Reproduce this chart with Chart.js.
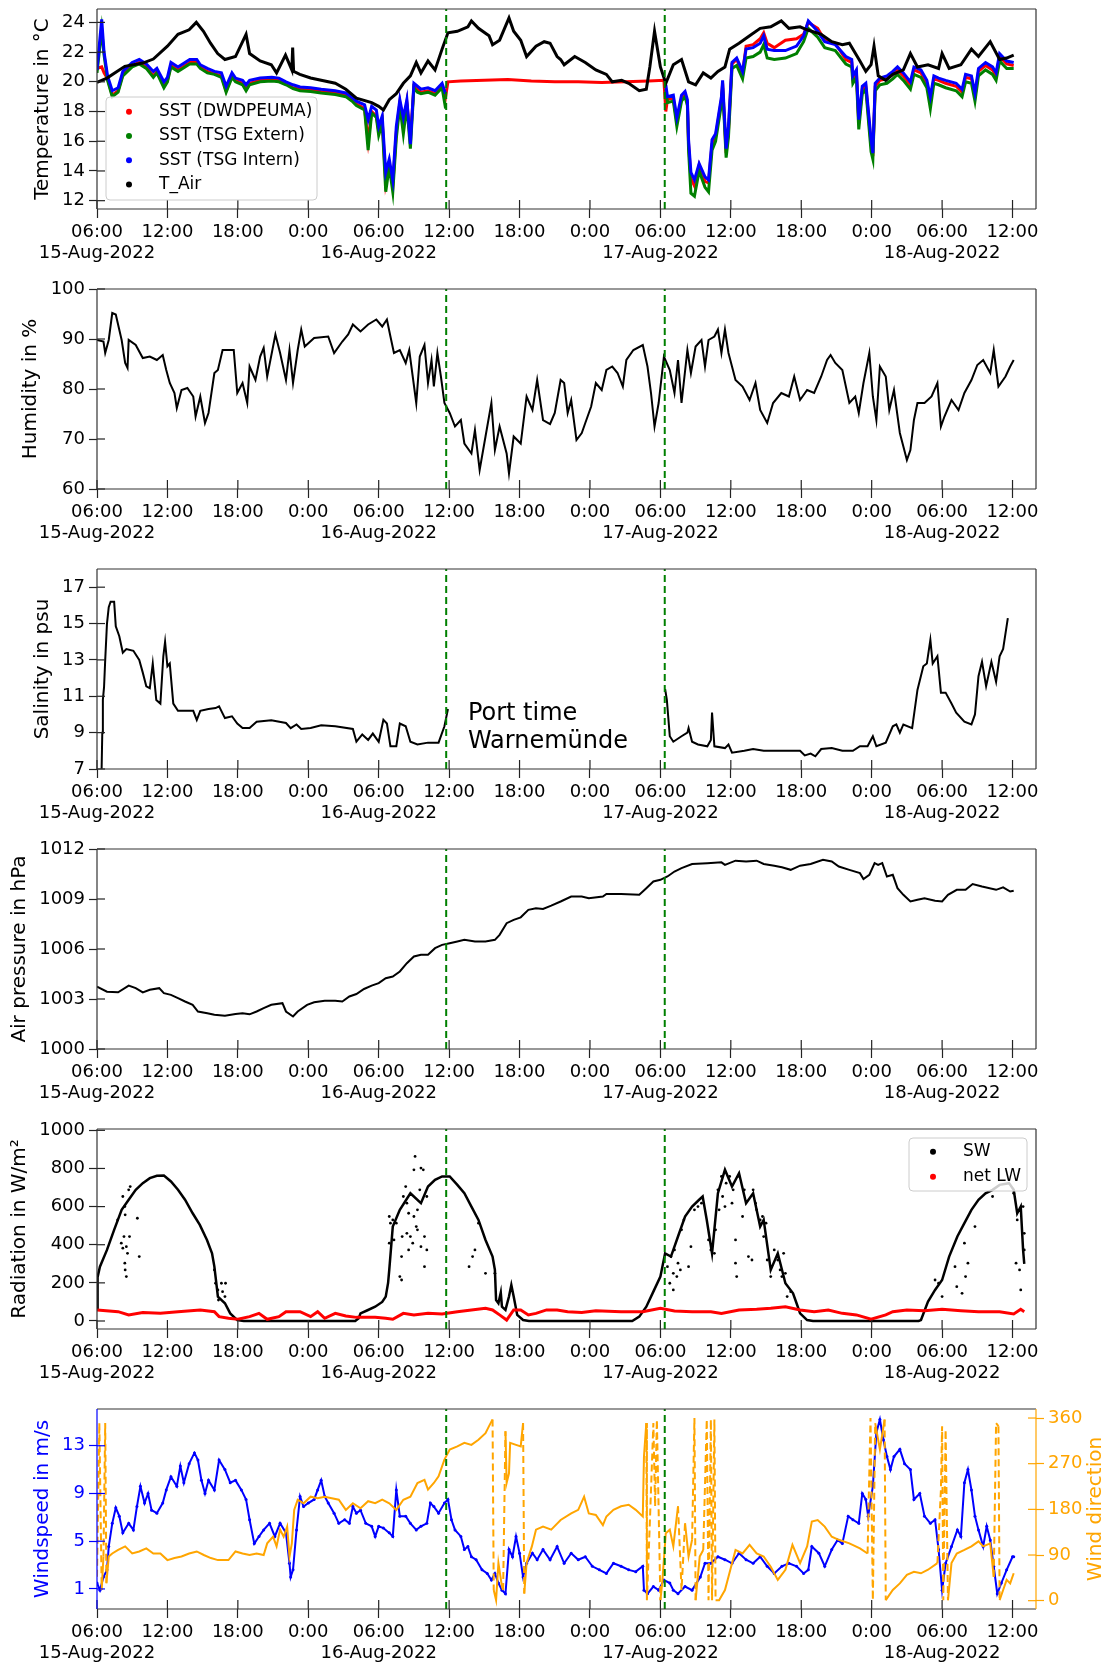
<!DOCTYPE html>
<html>
<head>
<meta charset="utf-8">
<script src="https://cdn.jsdelivr.net/npm/chart.js@4.4.0/dist/chart.umd.min.js"></script>
<style>
  body { margin: 0; background: #fff; }
  #wrap { position: relative; width: 1110px; height: 1663px; }
  canvas { position: absolute; left: 0; }
</style>
</head>
<body>
<div id="wrap">
  <canvas id="c1" width="1110" height="280" style="top:0px"></canvas>
  <canvas id="c2" width="1110" height="280" style="top:280px"></canvas>
  <canvas id="c3" width="1110" height="280" style="top:560px"></canvas>
  <canvas id="c4" width="1110" height="280" style="top:840px"></canvas>
  <canvas id="c5" width="1110" height="280" style="top:1120px"></canvas>
  <canvas id="c6" width="1110" height="263" style="top:1400px"></canvas>
</div>
<script>
// time axis: hours after 15-Aug-2022 06:00
const xRange = [0, 80];
const tickHours = [0, 6, 12, 18, 24, 30, 36, 42, 48, 54, 60, 66, 72, 78];
const tickLabels = [['06:00', '15-Aug-2022'], '12:00', '18:00', '0:00', ['06:00', '16-Aug-2022'], '12:00', '18:00', '0:00',
  ['06:00', '17-Aug-2022'], '12:00', '18:00', '0:00', ['06:00', '18-Aug-2022'], '12:00'];
const portTimes = [29.75, 48.37];

// temperature
const tAir = [[0,19.96],[0.85,20.25],[2.37,21.04],[3.9,21.26],[4.8,21.53],[6.0,22.4],[6.9,23.2],[7.85,23.5],[8.46,24.0],[9.07,23.4],
  [9.67,22.6],[10.28,21.9],[10.9,21.5],[11.8,21.7],[12.7,23.2],[13.0,21.9],[13.9,21.4],[14.85,21.15],[15.3,20.6],[16.06,21.8],
  [16.6,20.8],[16.67,22.3],[16.75,20.7],[17.28,20.5],[18.2,20.26],[19.1,20.1],[20.3,19.9],[21.2,19.5],[22.1,18.9],[23.4,18.6],
  [24.0,18.35],[24.4,18.1],[24.9,18.8],[25.5,19.2],[26.1,19.9],[26.7,20.4],[27.2,21.3],[27.6,20.6],[28.2,21.4],[28.8,20.8],
  [29.4,22.2],[29.9,23.3],[30.7,23.4],[31.6,23.7],[31.9,24.1],[32.5,23.6],[33.4,23.1],[33.7,22.5],[34.3,22.8],[35.1,24.3],
  [35.5,23.4],[36.1,22.8],[36.6,21.7],[37.4,22.4],[38.1,22.7],[38.6,22.6],[39.2,21.7],[39.5,21.5],[39.8,21.15],[40.7,21.7],
  [41.6,21.3],[42.5,20.8],[43.4,20.5],[43.9,20.0],[44.7,20.1],[45.3,19.9],[46.2,19.4],[46.8,19.5],[47.1,21.0],[47.5,23.4],
  [48.0,21.0],[48.46,19.9],[49.1,21.15],[49.8,21.5],[50.4,20.0],[51.0,19.8],[51.65,20.6],[52.3,20.25],[52.9,20.7],[53.5,21.0],
  [53.9,22.2],[54.7,22.6],[55.6,23.1],[56.5,23.6],[57.4,23.7],[58.3,24.1],[58.95,23.6],[59.9,23.7],[60.5,23.5],[61.7,23.2],
  [62.6,22.7],[63.5,22.5],[64.1,22.6],[65.0,21.4],[65.5,20.7],[65.95,21.15],[66.2,22.4],[66.56,20.4],[67.2,20.1],[67.8,20.5],
  [68.7,20.8],[69.3,21.9],[69.9,21.0],[70.8,21.15],[71.7,20.9],[72.0,21.9],[72.6,20.9],[73.6,21.15],[74.5,22.2],[75.1,21.7],
  [76.1,22.7],[76.9,21.5],[77.5,21.6],[78.1,21.8]];

const sstIntern = [[0,20.8],[0.4,24.2],[0.6,22.0],[0.9,20.4],[1.3,19.4],[1.8,19.6],[2.2,20.7],[3.0,21.3],[3.6,21.5],[4.2,21.2],
  [4.8,20.7],[5.1,20.9],[5.7,20.0],[6.0,20.3],[6.3,21.3],[6.9,21.0],[7.9,21.5],[8.5,21.5],[8.8,21.15],[9.4,20.9],
  [10.0,20.7],[10.6,20.6],[11.0,19.7],[11.5,20.6],[11.8,20.25],[12.4,20.1],[12.7,19.8],[13.0,20.1],[13.9,20.25],[14.9,20.3],
  [15.5,20.25],[16.1,20.0],[16.7,19.8],[17.3,19.65],[18.2,19.6],[19.1,19.5],[20.3,19.4],[21.2,19.25],[21.8,18.9],[22.1,18.7],
  [22.8,18.45],[23.1,17.45],[23.4,18.35],[23.8,18.1],[24.0,17.0],[24.3,17.7],[24.6,13.9],[24.9,14.8],[25.2,13.4],[25.5,17.0],
  [25.8,18.8],[26.1,17.6],[26.4,18.8],[26.7,15.8],[27.0,19.9],[27.3,19.7],[27.6,19.5],[28.2,19.6],[28.8,19.4],[29.4,19.9],
  [29.7,19.2],[30,null],
  [48.46,19.8],[48.6,19.0],[49.1,19.1],[49.4,17.6],[49.8,19.1],[50.1,19.35],[50.3,18.8],[50.4,16.1],[50.6,13.9],[50.9,13.4],
  [51.3,14.5],[51.8,13.6],[52.1,13.4],[52.4,16.1],[52.7,16.5],[53.2,19.0],[53.3,20.1],[53.6,15.5],[53.8,17.0],[54.1,21.3],
  [54.5,21.6],[55.0,20.7],[55.3,22.2],[55.9,22.3],[56.5,22.6],[56.8,23.1],[57.1,22.2],[57.7,22.1],[58.65,22.1],[59.6,22.4],
  [60.2,23.1],[60.6,24.1],[61.4,23.4],[62.0,22.7],[62.9,22.5],[63.8,21.7],[64.3,21.5],[64.4,20.4],[64.7,20.8],[64.9,17.45],
  [65.2,19.7],[65.5,19.9],[65.95,16.1],[66.1,15.2],[66.3,19.9],[66.7,20.25],[67.3,20.4],[67.8,20.7],[68.2,21.0],[68.7,20.6],
  [69.3,20.0],[69.6,21.0],[70.2,20.8],[70.7,20.1],[71.0,19.0],[71.3,20.4],[71.7,20.25],[72.3,20.1],[73.2,19.9],[73.7,19.5],
  [74.0,20.5],[74.5,20.4],[74.8,19.25],[75.1,20.9],[75.7,21.3],[76.3,21.0],[76.6,20.6],[76.9,21.9],[77.5,21.4],[78.1,21.3]];

const sstExtern = [[0,20.6],[0.4,23.5],[0.6,21.8],[0.9,20.1],[1.3,19.0],[1.8,19.3],[2.2,20.4],[3.0,21.0],[3.6,21.2],[4.2,20.9],
  [4.8,20.3],[5.1,20.6],[5.7,19.6],[6.0,20.0],[6.3,21.0],[6.9,20.7],[7.9,21.2],[8.5,21.2],[8.8,20.9],[9.4,20.6],
  [10.0,20.5],[10.6,20.3],[11.0,19.3],[11.5,20.3],[11.8,20.0],[12.4,19.8],[12.7,19.4],[13.0,19.8],[13.9,20.0],[14.9,20.05],
  [15.5,20.0],[16.1,19.8],[16.7,19.55],[17.3,19.4],[18.2,19.35],[19.1,19.25],[20.3,19.15],[21.2,19.0],[21.8,18.65],[22.1,18.4],
  [22.8,18.1],[23.1,15.4],[23.4,17.9],[23.8,17.6],[24.0,16.4],[24.3,17.2],[24.6,12.6],[24.9,14.3],[25.2,12.6],[25.5,16.2],
  [25.8,18.4],[26.1,16.5],[26.4,18.4],[26.7,15.5],[27.0,19.6],[27.3,19.3],[27.6,19.2],[28.2,19.3],[28.8,19.1],[29.4,19.6],
  [29.7,18.2],[30,null],
  [48.46,19.5],[48.6,18.6],[49.1,18.7],[49.4,17.0],[49.8,18.7],[50.1,19.0],[50.3,18.4],[50.4,15.4],[50.6,12.5],[50.9,12.3],
  [51.3,14.0],[51.8,12.9],[52.1,12.6],[52.4,15.4],[52.7,16.0],[53.2,18.5],[53.3,19.6],[53.6,14.9],[53.8,16.3],[54.1,20.9],
  [54.5,21.1],[55.0,20.2],[55.3,21.6],[55.9,21.7],[56.5,22.0],[56.8,22.5],[57.1,21.6],[57.7,21.5],[58.65,21.6],[59.6,21.9],
  [60.2,22.7],[60.6,23.6],[61.4,23.0],[62.0,22.3],[62.9,22.1],[63.8,21.2],[64.3,21.0],[64.4,19.9],[64.7,20.3],[64.9,16.8],
  [65.2,19.2],[65.5,19.5],[65.95,15.3],[66.1,14.8],[66.3,19.4],[66.7,19.8],[67.3,19.9],[67.8,20.2],[68.2,20.5],[68.7,20.1],
  [69.3,19.5],[69.6,20.5],[70.2,20.3],[70.7,19.6],[71.0,18.2],[71.3,19.9],[71.7,19.8],[72.3,19.6],[73.2,19.4],[73.7,19.0],
  [74.0,20.0],[74.5,19.9],[74.8,18.7],[75.1,20.4],[75.7,20.8],[76.3,20.5],[76.6,20.1],[76.9,21.4],[77.5,20.9],[78.1,20.9]];

const sstDwd = [[0,20.9],[0.4,21.0],[0.6,20.6],[0.9,20.2],[1.3,19.1],[1.8,19.4],[2.2,20.5],[3.0,21.1],[3.6,21.3],[4.2,21.0],
  [4.8,20.4],[5.1,20.7],[5.7,19.7],[6.0,20.1],[6.3,21.1],[6.9,20.8],[7.9,21.3],[8.5,21.3],[8.8,21.0],[9.4,20.7],
  [10.0,20.55],[10.6,20.4],[11.0,19.4],[11.5,20.4],[11.8,20.1],[12.4,19.9],[12.7,19.5],[13.0,19.9],[13.9,20.1],[14.9,20.15],
  [15.5,20.1],[16.1,19.9],[16.7,19.6],[17.3,19.5],[18.2,19.45],[19.1,19.35],[20.3,19.25],[21.2,19.1],[21.8,18.75],[22.1,18.5],
  [22.8,18.2],[23.1,16.0],[23.4,18.0],[23.8,17.7],[24.0,16.7],[24.3,17.4],[24.6,13.2],[24.9,14.5],[25.2,13.0],[25.5,16.6],
  [25.8,18.6],[26.1,17.0],[26.4,18.6],[26.7,16.2],[27.0,19.7],[27.3,19.5],[27.6,19.3],[28.2,19.4],[28.8,19.2],[29.4,19.7],
  [29.7,19.0],[29.9,20.0],[31,20.05],[33,20.1],[35,20.15],[37,20.05],[39,20.0],[41,20.0],[43,19.95],[45,20.0],[47,20.05],[48.3,20.1],
  [48.46,18.0],[48.6,18.8],[49.1,18.9],[49.4,17.3],[49.8,18.9],[50.1,19.2],[50.3,18.6],[50.4,15.8],[50.6,13.5],[50.9,13.0],
  [51.3,14.4],[51.8,13.3],[52.1,13.2],[52.4,15.8],[52.7,16.3],[53.2,18.8],[53.3,19.9],[53.6,15.2],[53.8,16.7],[54.1,21.2],
  [54.5,21.5],[55.0,20.6],[55.3,22.4],[55.9,22.5],[56.5,22.9],[56.8,23.3],[57.1,22.6],[57.7,22.3],[58.65,22.8],[59.6,22.9],
  [60.2,23.2],[60.6,24.0],[61.4,23.6],[62.0,22.8],[62.9,22.6],[63.8,21.5],[64.3,21.3],[64.4,20.2],[64.7,20.6],[64.9,17.2],
  [65.2,19.5],[65.5,19.7],[65.95,15.8],[66.1,15.0],[66.3,19.7],[66.7,20.1],[67.3,20.2],[67.8,20.5],[68.2,20.8],[68.7,20.4],
  [69.3,19.8],[69.6,20.8],[70.2,20.6],[70.7,19.9],[71.0,18.7],[71.3,20.2],[71.7,20.1],[72.3,19.9],[73.2,19.7],[73.7,19.3],
  [74.0,20.3],[74.5,20.2],[74.8,19.0],[75.1,20.7],[75.7,21.1],[76.3,20.8],[76.6,20.4],[76.9,21.7],[77.5,21.2],[78.1,21.1]];

// humidity
const humidity = [[0,89.8],[0.55,89.5],[0.7,87.2],[1.0,89.8],[1.3,95.2],[1.6,94.9],[2.1,89.8],[2.4,85.2],[2.6,84.2],[2.7,89.8],
  [3.3,88.8],[3.9,86.2],[4.5,86.5],[5.1,85.8],[5.6,86.8],[5.9,83.8],[6.2,81.2],[6.6,79.2],[6.8,76.2],[7.2,79.8],
  [7.7,80.2],[8.2,78.5],[8.4,74.5],[8.8,78.5],[9.2,73.2],[9.5,75.2],[10.0,83.2],[10.3,83.8],[10.7,87.8],[11.65,87.8],
  [11.95,79.2],[12.4,81.2],[12.8,77.2],[13.0,84.5],[13.5,81.8],[13.9,86.5],[14.2,88.2],[14.5,82.5],[15.2,90.9],[15.6,87.2],
  [16.1,81.8],[16.4,87.8],[16.7,81.2],[17.1,87.8],[17.4,91.9],[17.7,88.5],[18.5,90.2],[19.7,90.5],[20.2,87.2],[20.9,89.5],
  [21.4,90.9],[21.8,92.9],[22.45,91.5],[23.1,92.9],[23.8,93.9],[24.3,92.5],[24.7,93.9],[25.0,90.5],[25.3,87.2],[25.8,87.8],
  [26.3,85.2],[26.6,87.8],[27.2,77.2],[27.5,86.5],[27.9,88.8],[28.2,81.2],[28.5,85.8],[28.7,80.5],[29.0,87.2],[29.3,82.5],
  [29.6,77.2],[30.05,75.2],[30.5,72.5],[31.0,73.8],[31.3,69.1],[31.9,67.1],[32.2,71.8],[32.6,63.8],[33.1,70.5],[33.6,77.2],
  [33.9,67.8],[34.3,72.5],[34.9,67.1],[35.1,63.1],[35.5,70.5],[36.1,69.1],[36.6,78.5],[37.1,75.8],[37.5,81.8],[38.0,73.8],
  [38.6,73.0],[39.0,75.2],[39.5,81.8],[39.8,81.2],[40.1,75.2],[40.4,77.8],[40.85,69.8],[41.3,71.2],[41.6,73.2],[42.1,76.5],
  [42.5,81.2],[43.0,79.8],[43.4,83.8],[43.9,84.5],[44.35,83.2],[44.8,80.5],[45.1,85.8],[45.7,87.8],[46.5,88.8],[46.9,84.5],
  [47.2,79.2],[47.5,72.5],[47.85,77.2],[48.3,86.5],[48.8,83.8],[49.2,79.2],[49.5,85.8],[49.8,77.2],[50.3,87.8],[50.6,83.2],
  [51.0,88.5],[51.5,89.8],[51.8,84.5],[52.1,89.8],[52.6,90.5],[52.9,91.9],[53.2,87.2],[53.5,91.9],[53.8,87.2],[54.1,84.5],
  [54.4,81.8],[55.0,80.5],[55.6,77.8],[56.1,81.2],[56.5,75.8],[57.1,73.2],[57.6,77.2],[58.3,79.2],[58.95,78.5],[59.4,82.5],
  [59.9,77.8],[60.5,79.8],[61.1,79.2],[61.7,82.5],[62.2,85.8],[62.5,86.8],[62.9,85.2],[63.5,83.8],[64.1,77.2],[64.6,78.5],
  [64.9,75.2],[65.3,81.2],[65.8,87.2],[66.1,78.5],[66.4,73.8],[66.7,84.5],[67.2,82.5],[67.5,75.8],[67.9,79.8],[68.4,71.2],
  [68.7,68.5],[69.0,65.8],[69.3,67.8],[69.6,73.8],[69.9,77.2],[70.5,77.2],[71.1,78.5],[71.6,81.2],[71.9,72.5],[72.2,74.5],
  [72.8,77.8],[73.4,75.8],[73.9,79.2],[74.5,81.8],[75.0,84.8],[75.5,85.8],[76.1,83.2],[76.4,87.8],[76.8,80.5],[77.4,82.5],
  [77.8,84.5],[78.1,85.8]];

// salinity
const salinity = [[0.38,6.5],[0.45,9.0],[0.5,10.8],[0.6,11.5],[0.7,13.0],[0.85,15.0],[1.0,15.9],[1.16,16.2],[1.46,16.2],[1.6,14.85],
  [1.9,14.3],[2.2,13.4],[2.5,13.6],[3.1,13.5],[3.6,13.0],[3.9,12.3],[4.2,11.55],[4.5,11.45],[4.75,12.8],[5.05,10.8],
  [5.4,10.6],[5.65,13.2],[5.8,14.0],[6.0,12.65],[6.2,12.8],[6.5,10.6],[6.9,10.2],[8.2,10.2],[8.5,9.7],[8.8,10.2],
  [9.5,10.3],[10.1,10.35],[10.4,10.45],[10.9,9.8],[11.5,9.9],[11.95,9.5],[12.4,9.25],[13.0,9.25],[13.6,9.6],[14.85,9.68],
  [16.1,9.53],[16.5,9.25],[17.0,9.45],[17.4,9.2],[18.2,9.25],[19.1,9.4],[20.3,9.35],[21.8,9.2],[22.1,8.5],[22.6,8.9],
  [23.1,8.6],[23.5,8.95],[24.0,8.5],[24.4,9.7],[24.7,9.5],[25.0,8.25],[25.5,8.25],[25.8,9.5],[26.3,9.35],[26.7,8.5],
  [27.3,8.35],[28.2,8.45],[29.1,8.45],[29.6,9.35],[29.9,10.3],[30,null],
  [48.4,11.4],[48.55,10.8],[48.8,8.8],[49.1,8.5],[49.8,8.8],[50.3,9.0],[50.4,9.25],[50.7,8.5],[51.2,8.35],[52.0,8.25],
  [52.3,8.6],[52.4,10.1],[52.6,8.25],[53.5,8.15],[53.8,8.35],[54.1,7.9],[55.15,8.0],[55.9,8.1],[56.8,8.0],[58.35,8.0],
  [59.9,8.0],[60.3,7.75],[60.8,7.85],[61.2,7.7],[61.7,8.1],[62.6,8.15],[63.5,8.0],[64.4,8.0],[65.0,8.25],[65.65,8.25],
  [66.1,8.8],[66.4,8.25],[67.2,8.45],[67.8,9.35],[68.1,9.45],[68.4,9.0],[68.7,9.45],[69.45,9.25],[69.9,11.35],[70.4,12.65],
  [70.7,12.8],[71.0,14.1],[71.2,12.8],[71.6,13.2],[71.9,11.2],[72.3,11.2],[72.8,10.6],[73.2,10.1],[73.9,9.6],[74.5,9.45],
  [74.8,10.0],[75.1,12.1],[75.4,12.9],[75.75,11.55],[76.2,12.9],[76.6,11.8],[76.9,13.2],[77.2,13.6],[77.6,15.3]];

// air pressure
const pressure = [[0,1003.74],[0.85,1003.44],[1.8,1003.4],[2.7,1003.8],[3.3,1003.65],[3.9,1003.4],[4.5,1003.55],[5.3,1003.65],[5.7,1003.35],[6.3,1003.25],
  [6.9,1003.05],[7.5,1002.85],[8.15,1002.65],[8.6,1002.25],[9.4,1002.15],[10.0,1002.05],[10.9,1002.0],[11.8,1002.1],[12.4,1002.15],[13.0,1002.08],
  [13.6,1002.25],[14.2,1002.45],[14.85,1002.65],[15.8,1002.75],[16.1,1002.25],[16.7,1001.95],[17.1,1002.25],[17.9,1002.65],[18.5,1002.8],[19.4,1002.9],
  [20.3,1002.9],[20.9,1002.85],[21.5,1003.15],[22.1,1003.3],[22.75,1003.6],[23.4,1003.8],[24.0,1003.95],[24.6,1004.25],[25.2,1004.35],[25.8,1004.65],
  [26.4,1005.15],[27.0,1005.55],[27.6,1005.65],[28.2,1005.65],[28.8,1006.05],[29.4,1006.25],[30.05,1006.35],[30.7,1006.45],[31.3,1006.55],[32.2,1006.45],
  [33.1,1006.45],[33.9,1006.55],[34.3,1006.85],[34.9,1007.55],[35.5,1007.75],[36.1,1007.9],[36.75,1008.35],[37.4,1008.45],[38.0,1008.4],[38.7,1008.6],
  [39.5,1008.85],[40.4,1009.15],[41.3,1009.15],[41.9,1009.05],[43.1,1009.15],[43.4,1009.3],[44.65,1009.3],[46.2,1009.25],[46.8,1009.65],[47.4,1010.05],
  [48.0,1010.15],[48.6,1010.35],[49.2,1010.65],[49.8,1010.85],[50.7,1011.1],[52.0,1011.15],[53.2,1011.2],[53.5,1011.05],[54.4,1011.3],[55.3,1011.25],
  [56.2,1011.3],[56.8,1011.1],[57.7,1011.0],[58.35,1010.9],[59.1,1010.75],[59.9,1011.0],[60.8,1011.1],[61.85,1011.35],[62.6,1011.25],[63.2,1010.95],
  [64.1,1010.75],[65.0,1010.55],[65.3,1010.2],[65.8,1010.45],[66.25,1011.15],[66.55,1011.05],[66.9,1011.15],[67.3,1010.35],[67.8,1010.45],[68.2,1009.65],
  [68.7,1009.25],[69.3,1008.85],[69.9,1008.95],[70.5,1009.05],[71.4,1008.9],[72.0,1008.85],[72.5,1009.25],[73.25,1009.55],[74.0,1009.55],[74.6,1009.9],
  [75.4,1009.75],[76.6,1009.55],[77.2,1009.7],[77.8,1009.45],[78.1,1009.5]];

// radiation
const swMain = [[0,60],[0.05,230],[0.25,285],[0.85,373],[1.46,478],[2.1,583],[2.7,636],[3.3,688],[3.9,723],[4.5,749],
  [5.1,762],[5.7,763],[6.3,732],[6.9,688],[7.5,636],[8.15,565],[8.76,504],[9.37,425],[9.8,355],[10.0,285],
  [10.1,233],[10.3,128],[10.9,93],[11.35,40],[11.95,5],[12.5,0],[22.0,0],[22.3,15],[22.45,40],[23.0,55],
  [23.7,75],[24.3,100],[24.6,128],[24.8,200],[24.9,268],[25.2,495],[25.8,583],[26.7,670],[27.6,618],[28.2,705],
  [28.8,740],[29.4,758],[30.05,758],[30.7,714],[31.3,670],[31.9,600],[32.5,530],[33.1,425],[33.7,338],[33.9,268],
  [34.0,110],[34.2,93],[34.4,149],[34.5,75],[34.8,58],[35.1,128],[35.3,189],[35.5,128],[35.8,32],[36.3,5],
  [36.8,0],[45.6,0],[46.2,23],[46.8,75],[47.4,154],[48.0,233],[48.4,355],[48.9,338],[49.5,443],[50.1,548],
  [50.7,600],[51.3,636],[51.6,653],[51.95,530],[52.4,355],[52.9,670],[53.5,793],[54.1,705],[54.7,775],[55.3,618],
  [55.9,670],[56.5,495],[56.8,530],[57.4,268],[58.0,355],[58.65,198],[59.3,145],[59.6,93],[59.9,40],[60.5,5],
  [61.0,0],[70.0,0],[70.2,5],[70.8,102],[71.4,163],[72.0,215],[72.6,338],[73.3,443],[73.9,513],[74.5,583],
  [75.1,636],[75.7,670],[76.3,688],[76.9,714],[77.7,723],[78.1,688],[78.4,565],[78.7,600],[78.9,373],[79.0,300]];
const swCloud = [[1.76,530],[2.07,408],[2.2,653],[2.37,600],[2.37,303],[2.4,268],[2.5,233],[2.6,355],[2.7,688],[2.77,443],
  [2.83,705],[3.44,539],[3.6,338],[2.2,382],[2.5,390],[2.3,443],[2.4,557],
  [10.0,268],[10.1,198],[10.3,163],[10.35,110],[10.6,198],[10.7,154],[10.9,128],[10.95,198],
  [24.9,548],[24.9,408],[25.0,513],[25.2,530],[25.5,513],[25.8,233],[25.95,338],[26.1,653],[26.3,705],[26.4,618],
  [26.55,565],[26.7,443],[26.9,408],[27.0,793],[27.1,863],[27.2,495],[27.3,478],[27.5,688],[27.6,390],[27.6,802],
  [27.8,793],[27.9,443],[28.1,373],[27.9,285],[26.4,460],[27.0,548],[25.3,425],[25.95,215],[26.0,443],[26.55,373],
  [27.3,583],[28.1,653],[32.2,373],[32.0,338],[31.7,285],[33.1,250],[33.9,250],[32.5,513],
  [48.6,285],[48.8,198],[48.9,338],[49.1,250],[49.2,373],[49.4,233],[49.5,303],[49.7,268],[49.1,163],[49.8,478],
  [50.0,530],[50.4,285],[50.6,390],[50.9,583],[51.2,600],[51.5,618],[52.1,425],[52.3,373],[52.6,355],[52.7,478],
  [52.9,688],[53.0,583],[53.2,758],[53.3,653],[53.5,600],[53.6,723],[53.9,758],[54.1,618],[54.2,688],[54.4,303],
  [54.4,425],[54.5,233],[54.7,758],[55.0,548],[55.15,688],[55.5,338],[55.8,320],[55.9,688],[56.1,618],[56.2,583],
  [56.5,530],[56.7,548],[56.8,443],[57.0,513],[57.1,320],[57.4,233],[57.7,373],[58.0,320],[58.2,268],[58.35,233],
  [58.5,355],[58.65,250],[58.8,128],[59.1,154],
  [71.4,215],[71.7,198],[72.0,128],[73.1,285],[73.25,180],[73.7,145],[73.9,408],[74.2,303],[74.0,233],[74.8,495],
  [76.3,653],[78.4,530],[78.3,303],[78.6,268],[78.7,163],[78.9,600],[79.0,460],[78.1,670],[79.0,373]];
const netLw = [[0,58],[1.8,49],[2.7,32],[3.9,44],[5.4,40],[6.9,49],[8.8,58],[10.0,49],[10.4,23],[11.2,14],
  [12.0,9],[13.0,23],[13.8,40],[14.5,9],[15.5,23],[16.1,49],[17.3,49],[18.2,23],[18.8,49],[19.4,14],
  [20.3,40],[21.2,26],[22.1,19],[23.7,19],[24.6,14],[25.2,9],[26.1,40],[27.0,32],[28.2,40],[29.4,37],
  [30.7,49],[31.9,58],[33.1,67],[33.7,58],[34.3,32],[34.9,5],[35.5,58],[36.1,58],[36.75,32],[37.4,40],
  [38.3,58],[39.2,58],[40.1,49],[41.3,44],[42.5,54],[44.65,49],[46.5,49],[48.0,67],[49.2,53],[50.7,49],
  [52.3,49],[53.2,40],[54.7,58],[56.2,61],[57.4,67],[58.65,75],[59.9,58],[61.1,49],[62.3,58],[63.5,40],
  [64.7,32],[65.95,9],[67.2,32],[67.8,49],[69.0,58],[70.5,54],[72.0,61],[73.6,54],[75.1,49],[76.9,49],
  [78.1,37],[78.7,61],[79.0,49]];

// wind
const windSpeed = [[0,1.5],[0.25,0.9],[0.55,2.0],[0.85,2.6],[1.0,4.55],[1.3,6.5],[1.6,7.8],[1.9,7.1],[2.2,5.7],[2.7,6.5],
  [3.1,5.95],[3.4,7.9],[3.7,9.6],[4.05,8.2],[4.35,9.0],[4.65,7.6],[5.1,7.35],[5.6,8.2],[5.9,9.3],[6.3,10.4],
  [6.8,9.6],[7.1,11.3],[7.4,9.9],[7.85,11.5],[8.3,12.4],[8.6,11.8],[8.9,10.1],[9.2,9.0],[9.5,10.1],[10.0,9.3],
  [10.4,11.8],[10.9,11.0],[11.35,9.9],[11.8,10.1],[12.3,9.3],[12.7,8.5],[13.0,6.8],[13.4,4.8],[13.8,5.4],[14.2,5.95],
  [14.7,6.5],[15.15,5.4],[15.6,6.5],[16.1,5.7],[16.4,3.15],[16.5,2.0],[16.7,2.6],[17.0,5.95],[17.3,8.75],[17.6,7.9],
  [18.0,8.2],[18.5,8.5],[18.8,9.3],[19.1,10.1],[19.4,8.75],[19.7,8.2],[20.2,7.35],[20.6,6.5],[21.1,6.8],[21.5,6.5],
  [21.8,7.9],[22.1,7.35],[22.45,7.6],[22.9,6.5],[23.4,6.25],[23.7,5.4],[24.0,6.25],[24.4,6.1],[24.9,5.7],[25.2,5.4],
  [25.5,9.3],[25.8,7.1],[26.3,7.1],[26.7,6.5],[27.2,5.95],[27.6,6.25],[28.1,6.5],[28.4,8.2],[28.7,7.9],[29.1,7.35],
  [29.6,8.2],[29.9,8.5],[30.2,6.8],[30.5,5.95],[31.0,5.4],[31.3,4.3],[31.6,4.55],[31.9,3.7],[32.3,3.45],[32.8,2.6],
  [33.25,2.3],[33.6,1.75],[33.9,2.3],[34.2,1.5],[34.5,0.9],[34.8,0.6],[35.1,4.3],[35.4,3.7],[35.7,5.4],[36.0,4.0],
  [36.3,2.0],[36.6,3.15],[37.1,4.0],[37.5,3.45],[38.0,4.3],[38.6,3.45],[39.2,4.55],[39.8,3.15],[40.4,4.0],[41.0,3.45],
  [41.6,3.7],[42.2,2.9],[42.8,2.6],[43.4,2.3],[44.0,3.15],[44.65,2.9],[45.3,2.6],[45.9,2.45],[46.5,2.9],[46.6,0.9],
  [46.9,0.6],[47.4,1.2],[47.85,0.9],[48.3,1.75],[48.8,1.5],[49.1,0.9],[49.5,0.6],[50.1,1.2],[50.7,0.9],[51.4,2.0],
  [51.8,3.15],[52.3,3.15],[52.9,3.7],[53.5,3.45],[54.1,3.15],[54.7,4.0],[55.3,3.45],[55.9,3.15],[56.5,3.7],[57.1,2.9],
  [57.7,2.3],[58.35,2.9],[58.95,3.15],[59.6,2.9],[60.2,2.3],[60.6,2.6],[60.9,4.55],[61.5,4.0],[62.0,2.9],[62.6,4.3],
  [63.1,5.1],[63.5,4.8],[64.0,7.1],[64.4,6.8],[64.9,6.5],[65.2,9.0],[65.5,8.5],[65.7,7.1],[66.1,9.6],[66.4,14.1],
  [66.7,15.2],[67.0,13.5],[67.3,12.1],[67.6,11.0],[67.9,12.1],[68.4,12.7],[68.8,11.5],[69.3,11.0],[69.6,8.5],[70.1,9.0],
  [70.5,7.1],[71.0,6.5],[71.4,6.8],[71.7,4.3],[72.0,0.9],[72.3,3.15],[72.8,4.55],[73.3,5.95],[73.6,5.4],[73.9,9.9],
  [74.2,11.0],[74.5,9.3],[74.8,7.1],[75.1,5.95],[75.5,4.55],[75.8,6.25],[76.1,5.1],[76.4,2.9],[76.7,0.6],[77.05,1.5],
  [77.5,2.6],[78.0,3.7],[78.1,3.7]];
const windDir = [[0,47],[0.2,350],[0.4,21],[0.55,87],[0.7,350],[0.8,34],[1.0,87],[1.3,93],[1.8,100],[2.4,107],
  [3.0,93],[3.6,97],[4.2,103],[4.8,93],[5.4,93],[6.0,80],[6.6,84],[7.2,87],[7.85,93],[8.5,97],
  [9.1,90],[9.7,84],[10.3,80],[11.2,80],[11.8,97],[12.4,93],[13.0,90],[13.6,93],[14.2,90],[14.5,113],
  [15.0,126],[15.3,107],[15.6,140],[15.9,126],[16.2,146],[16.4,87],[16.6,113],[16.8,179],[17.1,199],[17.6,192],
  [18.2,205],[18.8,202],[19.4,205],[20.0,202],[20.6,199],[21.2,179],[21.8,192],[22.45,182],[23.1,196],[23.7,192],
  [24.3,199],[24.9,192],[25.5,179],[26.1,199],[26.7,205],[27.3,232],[27.9,238],[28.2,219],[28.7,232],[29.1,245],
  [29.6,278],[30.05,298],[30.7,304],[31.3,311],[31.9,307],[32.5,317],[33.1,330],[33.4,344],[33.7,357],[33.8,21],
  [34.0,1],[34.2,74],[34.5,28],[34.6,21],[34.8,334],[34.9,232],[35.1,251],[35.2,311],[35.7,307],[36.1,304],
  [36.3,350],[36.4,14],[36.6,74],[37.05,107],[37.4,140],[38.0,146],[38.7,140],[39.5,159],[40.4,172],[41.0,179],
  [41.5,205],[41.9,172],[42.5,169],[43.1,149],[43.4,166],[44.0,179],[44.65,186],[45.3,189],[45.9,179],[46.5,166],
  [46.6,284],[46.8,350],[46.85,1],[47.1,153],[47.4,350],[47.55,186],[47.7,357],[48.0,1],[48.15,34],[48.46,133],
  [48.8,140],[49.1,107],[49.5,186],[49.8,21],[50.1,153],[50.4,87],[50.7,120],[50.9,360],[51.0,1],[51.35,87],
  [51.65,100],[51.95,357],[52.1,1],[52.3,357],[52.4,1],[52.6,357],[52.7,1],[53.0,1],[53.5,21],[53.8,47],
  [54.4,100],[55.0,93],[55.6,110],[56.2,93],[56.8,87],[57.4,67],[58.0,41],[58.65,61],[59.25,110],[59.9,74],
  [60.5,107],[60.9,156],[61.4,159],[62.0,146],[62.6,126],[63.2,120],[64.1,113],[65.0,103],[65.65,93],[65.9,360],
  [66.1,1],[66.3,350],[66.7,298],[67.1,357],[67.2,1],[67.8,21],[68.4,34],[69.0,51],[69.6,57],[70.2,54],
  [70.8,61],[71.6,74],[71.9,219],[72.0,344],[72.1,1],[72.3,337],[72.5,1],[72.8,74],[73.25,93],[73.9,100],
  [74.5,107],[75.1,117],[75.5,107],[76.1,113],[76.4,47],[76.6,350],[76.8,344],[76.9,1],[77.2,21],[77.5,41],
  [77.8,34],[78.1,54]];

const tempTicks = [12, 14, 16, 18, 20, 22, 24];
const humTicks = [60, 70, 80, 90, 100];
const salTicks = [7, 9, 11, 13, 15, 17];
const presTicks = [1000, 1003, 1006, 1009, 1012];
const radTicks = [0, 200, 400, 600, 800, 1000];
const speedTicks = [1, 5, 9, 13];
const dirTicks = [0, 90, 180, 270, 360];

const BLUE = '#0000ff', ORANGE = '#ffa500', GREEN = '#008000', RED = '#ff0000';

Chart.defaults.font.family = "'DejaVu Sans', sans-serif";
Chart.defaults.font.size = 18;
Chart.defaults.color = '#000';
Chart.defaults.animation = false;

const xy = arr => arr.map(p => ({x: p[0], y: p[1]}));

function fixedTicks(list) {
  return s => { s.ticks = list.map(v => ({value: v})); };
}

function xAxis(height) {
  return {
    type: 'linear', min: xRange[0], max: xRange[1],
    afterBuildTicks: fixedTicks(tickHours),
    afterFit: s => { s.height = height; s.paddingLeft = 0; s.paddingRight = 0; },
    grid: {display: true, drawOnChartArea: false, tickLength: 9, tickColor: '#222', tickWidth: 1.2},
    border: {display: false},
    ticks: {padding: 4, maxRotation: 0, minRotation: 0, autoSkip: false, font: {size: 18, lineHeight: 1.15},
      callback: (v, i) => tickLabels[i]}
  };
}

function yAxis(min, max, ticks, title, pad, color) {
  color = color || '#000';
  return {
    type: 'linear', position: 'left', min: min, max: max,
    afterBuildTicks: fixedTicks(ticks),
    afterFit: s => { s.width = 97; s.paddingTop = 0; s.paddingBottom = 0; },
    grid: {display: true, drawOnChartArea: false, tickLength: 8, tickColor: color === '#000' ? '#222' : color, tickWidth: 1.2},
    border: {display: false},
    ticks: {padding: 4, color: color, callback: v => String(v)},
    title: {display: true, text: title, color: color, font: {size: 20}, padding: {top: pad, bottom: 0}}
  };
}

function portLines(min, max) {
  return portTimes.map(t => ({
    data: [{x: t, y: min}, {x: t, y: max}],
    borderColor: GREEN, borderWidth: 2, borderDash: [7, 4], pointRadius: 0, order: 0
  }));
}

function lineSet(label, pts, color, width, order) {
  return {label: label, data: xy(pts), borderColor: color, backgroundColor: color,
    borderWidth: width, pointRadius: 0, spanGaps: false, order: order || 1};
}

const framePlugin = {
  id: 'frame',
  afterDatasetsDraw(chart, args, o) {
    const {ctx, chartArea: a} = chart;
    ctx.save();
    ctx.lineWidth = 1.2;
    Object.values(chart.scales).forEach(s => {
      ctx.strokeStyle = s.options.grid.tickColor;
      s.ticks.forEach(t => {
        const p = s.getPixelForValue(t.value);
        ctx.beginPath();
        if (s.isHorizontal()) { ctx.moveTo(p, a.bottom); ctx.lineTo(p, a.bottom - 9); }
        else if (s.position === 'left') { ctx.moveTo(a.left, p); ctx.lineTo(a.left + 8, p); }
        else { ctx.moveTo(a.right, p); ctx.lineTo(a.right - 8, p); }
        ctx.stroke();
      });
    });
    const sp = Object.assign({top: '#333', bottom: '#333', left: '#333', right: '#333'}, o.spines || {});
    const seg = (x1, y1, x2, y2, c) => { ctx.strokeStyle = c; ctx.beginPath(); ctx.moveTo(x1, y1); ctx.lineTo(x2, y2); ctx.stroke(); };
    seg(a.left, a.top, a.right, a.top, sp.top);
    seg(a.left, a.bottom, a.right, a.bottom, sp.bottom);
    seg(a.left, a.top, a.left, a.bottom, sp.left);
    seg(a.right, a.top, a.right, a.bottom, sp.right);
    if (o.rightTitle) {
      ctx.fillStyle = o.rightTitle.color;
      ctx.font = "20px 'DejaVu Sans'";
      ctx.textAlign = 'center'; ctx.textBaseline = 'middle';
      ctx.translate(o.rightTitle.x, (a.top + a.bottom) / 2);
      ctx.rotate(-Math.PI / 2);
      ctx.fillText(o.rightTitle.text, 0, 0);
    }
    ctx.restore();
  }
};

const dotLegend = {
  id: 'dotLegend',
  afterDraw(chart, args, o) {
    if (!o.box) return;
    const {ctx} = chart;
    const b = o.box;
    ctx.save();
    ctx.fillStyle = 'rgba(255,255,255,0.8)';
    ctx.strokeStyle = '#cccccc';
    ctx.lineWidth = 1;
    ctx.beginPath();
    ctx.roundRect(b[0], b[1], b[2], b[3], 4);
    ctx.fill(); ctx.stroke();
    ctx.font = "17px 'DejaVu Sans'";
    ctx.textBaseline = 'middle';
    o.items.forEach((idx, i) => {
      const ds = chart.data.datasets[idx];
      const cy = o.firstRow + i * o.rowGap;
      ctx.fillStyle = ds.borderColor;
      ctx.beginPath(); ctx.arc(o.dotX, cy, 3, 0, Math.PI * 2); ctx.fill();
      ctx.fillStyle = '#000';
      ctx.fillText(ds.label, o.textX, cy);
    });
    ctx.restore();
  }
};

const portText = {
  id: 'portText',
  afterDatasetsDraw(chart, args, o) {
    if (!o.lines) return;
    const {ctx, scales} = chart;
    const x = scales.x.getPixelForValue(o.at[0]);
    const y = scales.y.getPixelForValue(o.at[1]);
    ctx.save();
    ctx.font = "24px 'DejaVu Sans'";
    ctx.fillStyle = '#000';
    ctx.textBaseline = 'middle';
    o.lines.forEach((t, i) => ctx.fillText(t, x, y + i * 27.4));
    ctx.restore();
  }
};

function make(id, datasets, scales, plugOpts, padRight) {
  return new Chart(document.getElementById(id), {
    type: 'line',
    data: {datasets: datasets},
    options: {
      responsive: false, devicePixelRatio: 1, animation: false,
      layout: {padding: {top: 9, left: 0, right: padRight, bottom: 0}},
      scales: scales,
      plugins: Object.assign({legend: {display: false}, tooltip: {enabled: false}}, plugOpts)
    },
    plugins: [framePlugin, dotLegend, portText]
  });
}

// 1: temperature
make('c1', [
  lineSet('SST (DWDPEUMA)', sstDwd, RED, 3, 5),
  lineSet('SST (TSG Extern)', sstExtern, GREEN, 3, 4),
  lineSet('SST (TSG Intern)', sstIntern, BLUE, 3, 3),
  lineSet('T_Air', tAir, '#000', 3, 2),
  ...portLines(11.44, 24.9)
], {x: xAxis(71), y: yAxis(11.44, 24.9, tempTicks, 'Temperature in °C', 31)},
{dotLegend: {box: [106, 97, 211, 103], items: [0, 1, 2, 3], dotX: 129, textX: 159, firstRow: 111.7, rowGap: 24.3}}, 74);

// 2: humidity
make('c2', [lineSet('Humidity', humidity, '#000', 2, 2), ...portLines(60, 100)],
  {x: xAxis(71), y: yAxis(60, 100, humTicks, 'Humidity in %', 19)}, {}, 74);

// 3: salinity
make('c3', [lineSet('Salinity', salinity, '#000', 2, 2), ...portLines(7, 18)],
  {x: xAxis(71), y: yAxis(7, 18, salTicks, 'Salinity in psu', 31)},
  {portText: {lines: ['Port time', 'Warnemünde'], at: [31.6, 10.03]}}, 74);

// 4: pressure
make('c4', [lineSet('Air pressure', pressure, '#000', 2, 2), ...portLines(1000, 1012)],
  {x: xAxis(71), y: yAxis(1000, 1012, presTicks, 'Air pressure in hPa', 8)}, {}, 74);

// 5: radiation
make('c5', [
  lineSet('SW', swMain, '#000', 2.5, 3),
  lineSet('net LW', netLw, RED, 3, 2),
  {label: 'SW cloud', data: xy(swCloud), showLine: false, pointRadius: 1.4, pointBorderWidth: 0,
    backgroundColor: '#000', borderColor: '#000', order: 3},
  ...portLines(-42, 1007)
], {x: xAxis(71), y: yAxis(-42, 1007, radTicks, 'Radiation in W/m²', 8)},
{dotLegend: {box: [909, 18, 118, 53], items: [0, 1], dotX: 933, textX: 963, firstRow: 31.7, rowGap: 25}}, 74);

// 6: wind
make('c6', [
  {label: 'Windspeed', data: xy(windSpeed), borderColor: BLUE, backgroundColor: BLUE, borderWidth: 2,
    pointRadius: 1.5, pointBorderWidth: 0, yAxisID: 'y', order: 3},
  {label: 'Wind direction', data: xy(windDir), borderColor: ORANGE, borderWidth: 2, pointRadius: 0,
    yAxisID: 'y2', order: 2,
    segment: {borderDash: c => Math.abs(c.p1.parsed.y - c.p0.parsed.y) > 120 ? [7, 4] : undefined}},
  ...portLines(-0.68, 16.08)
], {
  x: xAxis(54),
  y: yAxis(-0.68, 16.08, speedTicks, 'Windspeed in m/s', 31, BLUE),
  y2: {
    type: 'linear', position: 'right', min: -16.4, max: 377.8,
    afterBuildTicks: fixedTicks(dirTicks),
    afterFit: s => { s.width = 74; s.paddingTop = 0; s.paddingBottom = 0; },
    grid: {display: true, drawOnChartArea: false, tickLength: 8, tickColor: ORANGE, tickWidth: 1.2},
    border: {display: false},
    ticks: {padding: 4, color: ORANGE, callback: v => String(v)}
  }
}, {frame: {spines: {left: BLUE, right: ORANGE, top: '#333', bottom: '#333'},
  rightTitle: {text: 'Wind direction', color: ORANGE, x: 1096}}}, 0);
</script>
</body>
</html>
